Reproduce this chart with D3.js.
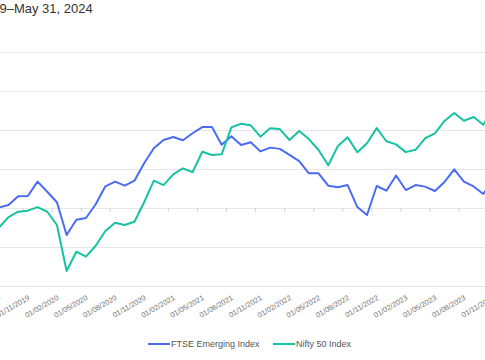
<!DOCTYPE html>
<html>
<head>
<meta charset="utf-8">
<script src="https://cdn.jsdelivr.net/npm/d3@7"></script>
<style>
  html, body { margin: 0; padding: 0; background: #fff; overflow: hidden; }
  svg { display: block; font-family: "Liberation Sans", Arial, sans-serif; }
</style>
</head>
<body>
<svg id="chart" width="485" height="360"></svg>
<script>
// ---- data (monthly, cumulative % change) ----
const months = [
  "01/08/2019","01/09/2019","01/10/2019","01/11/2019","01/12/2019",
  "01/01/2020","01/02/2020","01/03/2020","01/04/2020","01/05/2020","01/06/2020","01/07/2020","01/08/2020","01/09/2020","01/10/2020","01/11/2020","01/12/2020",
  "01/01/2021","01/02/2021","01/03/2021","01/04/2021","01/05/2021","01/06/2021","01/07/2021","01/08/2021","01/09/2021","01/10/2021","01/11/2021","01/12/2021",
  "01/01/2022","01/02/2022","01/03/2022","01/04/2022","01/05/2022","01/06/2022","01/07/2022","01/08/2022","01/09/2022","01/10/2022","01/11/2022","01/12/2022",
  "01/01/2023","01/02/2023","01/03/2023","01/04/2023","01/05/2023","01/06/2023","01/07/2023","01/08/2023","01/09/2023","01/10/2023","01/11/2023"
];
const ftseEmerging = [
  0.3, 1.9, 7.5, 7.7, 16.9,
  10.4, 3.7, -17.3, -7.5, -6.4, 2.4, 13.9, 16.9, 14.3, 17.5, 28.7, 38.3,
  43.6, 45.5, 43.4, 47.9, 51.9, 51.9, 40.6, 46.0, 40.4, 42.2, 36.3, 38.7,
  37.9, 34.0, 30.1, 22.2, 22.2, 14.3, 13.3, 14.7, 0.6, -4.5, 14.1, 11.1,
  20.8, 11.5, 14.7, 13.7, 10.9, 16.7, 24.8, 16.9, 13.8, 9.0, 18.0
];
const nifty50 = [
  -12.8, -5.8, -2.4, -1.7, 0.6,
  -2.4, -10.9, -40.4, -28.0, -31.2, -24.2, -14.7, -9.4, -10.9, -8.8, 3.7, 17.5,
  14.7, 21.6, 25.4, 22.9, 36.1, 34.0, 34.4, 51.7, 54.0, 53.0, 45.7, 51.1,
  50.6, 43.6, 49.4, 44.2, 37.2, 27.4, 39.7, 45.3, 35.7, 41.5, 51.2, 42.8,
  40.8, 35.8, 37.3, 44.7, 47.8, 55.8, 60.9, 55.9, 58.3, 53.4, 63.0
];
const yTicks = [-50, -25, 0, 25, 50, 75, 100];
const seriesNames = ["FTSE Emerging Index", "Nifty 50 Index"];
const titleText = "Cumulative Returns, Aug 1, 2019\u2013May 31, 2024";
const titleVisiblePart = "9\u2013May 31, 2024";

// ---- layout ----
const colors = ["#4a6cf4", "#17c2a4"];
const step = 9.69;
const x0 = -6.05;
const svg = d3.select("#chart");

const x = d3.scaleBand().domain(months).range([x0, x0 + step * months.length]).padding(0);
const y = d3.scaleLinear().domain([-50, 100]).range([286, 52]);
const cx = d => x(d) + x.bandwidth() / 2;

// title
const tmp = svg.append("text").attr("font-size", 13).text(titleText.slice(0, titleText.length - titleVisiblePart.length));
const prefixW = tmp.node().getComputedTextLength();
tmp.remove();
svg.append("text")
  .attr("x", -prefixW - 0.5).attr("y", 13)
  .attr("font-size", 13).attr("fill", "#333")
  .text(titleText);

// gridlines
svg.append("g").selectAll("line").data(yTicks).join("line")
  .attr("x1", x0).attr("x2", x0 + step * months.length + 20)
  .attr("y1", d => y(d)).attr("y2", d => y(d))
  .attr("stroke", "#e6e6e6").attr("stroke-width", 1).attr("shape-rendering", "crispEdges");

const labelMonths = months.filter((d, i) => i % 3 === 0);

// tick marks on zero line (band boundaries)
const tickAxis = d3.axisBottom(x).tickValues(labelMonths).tickSize(4).tickFormat("").tickSizeOuter(0);
const tg = svg.append("g").attr("transform", `translate(${-x.bandwidth() / 2},${y(0)})`).call(tickAxis);
tg.select(".domain").remove();
tg.selectAll(".tick line").attr("stroke", "#d4d4d4");

// labels at bottom
const labelAxis = d3.axisBottom(x).tickValues(labelMonths).tickSize(0).tickSizeOuter(0);
const lg = svg.append("g").attr("transform", `translate(0,${y(-50)})`).call(labelAxis);
lg.select(".domain").remove();
lg.selectAll(".tick text")
  .attr("font-family", "Liberation Sans, Arial, sans-serif")
  .attr("font-size", 7.5).attr("fill", "#777")
  .attr("text-anchor", "end").attr("dy", "0.35em").attr("y", 0)
  .attr("transform", "translate(1,11) rotate(-30)");

// lines
const line = d3.line().x((d, i) => cx(months[i])).y(d => y(d));
[ftseEmerging, nifty50].forEach((s, k) => {
  svg.append("path").datum(s)
    .attr("fill", "none").attr("stroke", colors[k]).attr("stroke-width", 2)
    .attr("stroke-linejoin", "round")
    .attr("d", line);
});

// legend
const legendPos = [148, 273];
seriesNames.forEach((n, k) => {
  const g = svg.append("g").attr("transform", `translate(${legendPos[k]},344)`);
  g.append("line").attr("x1", 0).attr("x2", 22).attr("y1", 0).attr("y2", 0)
    .attr("stroke", colors[k]).attr("stroke-width", 2);
  g.append("text").attr("x", 23).attr("y", 3.2).attr("font-size", 9).attr("fill", "#555").text(n);
});
</script>
</body>
</html>
